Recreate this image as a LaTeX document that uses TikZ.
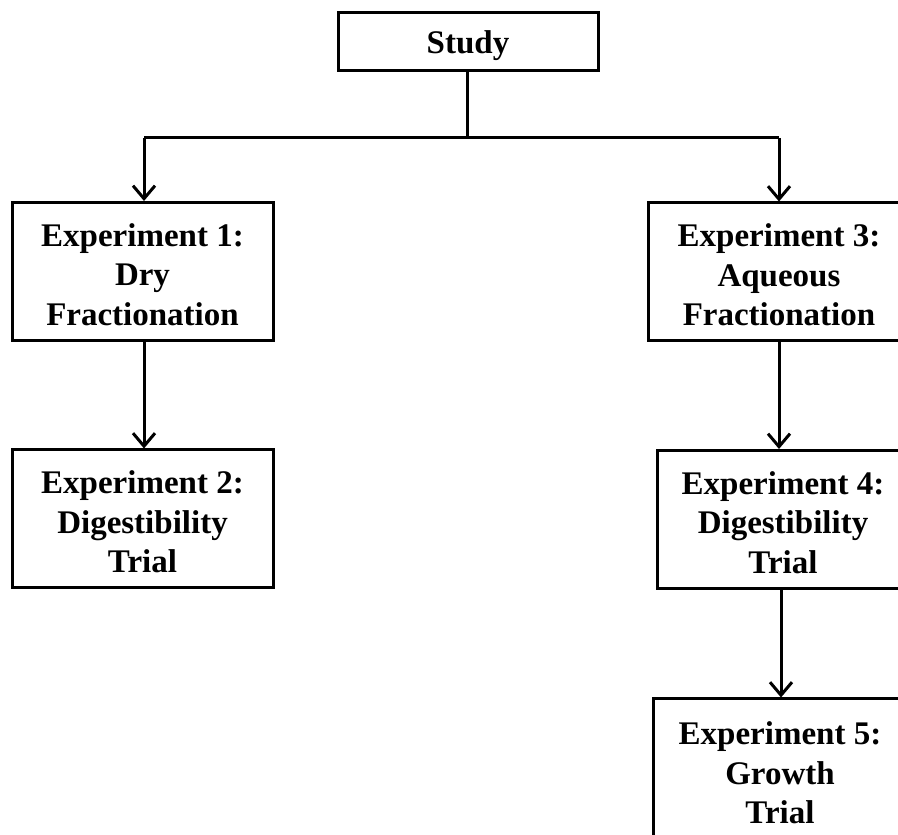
\documentclass[tikz,border=0pt]{standalone}
\usepackage{fontspec}
\setmainfont{Liberation Serif}
\usetikzlibrary{arrows.meta}
\begin{document}
\begin{tikzpicture}[x=1pt,y=1pt,
  box/.style={draw=black, line width=3pt, fill=white, inner sep=0pt, minimum height=138pt},
  txt/.style={inner sep=0pt, align=center, font=\fontsize{33}{39.5}\selectfont\bfseries},
  conn/.style={line width=3pt, draw=black},
  arr/.style={conn, -{Straight Barb[length=13pt,width=22pt,line width=3pt]}}]
\useasboundingbox (0,0) rectangle (898,835);
\clip (0,0) rectangle (898,835);
\node[box, minimum width=260pt, minimum height=58pt] (study) at (468,793) {};
\node[txt] (studyt) at ([yshift=-4pt]study.center) {Study};
\node[box, minimum width=261pt] (e1) at (142.5,563.5) {};
\node[txt] (e1t) at ([yshift=-3pt]e1.center) {Experiment 1:\\Dry\\Fractionation};
\node[box, minimum width=261pt] (e2) at (142.5,316) {};
\node[txt] (e2t) at ([yshift=-3pt]e2.center) {Experiment 2:\\Digestibility\\Trial};
\node[box, minimum width=262pt] (e3) at (779,563) {};
\node[txt] (e3t) at ([yshift=-3pt]e3.center) {Experiment 3:\\Aqueous\\Fractionation};
\node[box, minimum width=252pt] (e4) at (783,315.5) {};
\node[txt] (e4t) at ([yshift=-3pt]e4.center) {Experiment 4:\\Digestibility\\Trial};
\node[box, minimum width=254pt, minimum height=170pt] (e5) at (780,51) {};
\node[txt] (e5t) at (780,62) {Experiment 5:\\Growth\\Trial};
\coordinate (j) at (467,697);
\coordinate (jl) at (144,697);
\coordinate (jr) at (779,697);
\draw[conn] (study.south -| j) -- (j);
\draw[conn] (jl) -- (jr);
\draw[arr] (jl) -- (jl |- e1.north);
\draw[arr] (jr) -- (jr |- e3.north);
\draw[arr] (jl |- e1.south) -- (jl |- e2.north);
\draw[arr] (jr |- e3.south) -- (jr |- e4.north);
\draw[arr] ([xshift=-2pt]e4.south) -- ([xshift=-2pt]e4.south |- e5.north);
\end{tikzpicture}
\end{document}
